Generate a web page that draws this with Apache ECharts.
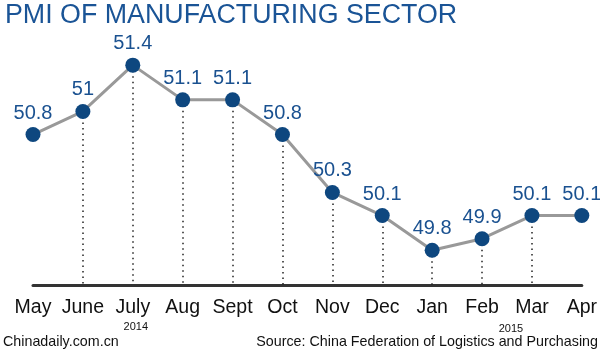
<!DOCTYPE html>
<html>
<head>
<meta charset="utf-8">
<script src="https://cdn.jsdelivr.net/npm/echarts@6/dist/echarts.min.js"></script>
<style>
html,body{margin:0;padding:0;background:#fff;}
#chart{width:600px;height:351px;}
</style>
</head>
<body>
<div id="chart"></div>
<script>
var categories = ['May','June','July','Aug','Sept','Oct','Nov','Dec','Jan','Feb','Mar','Apr'];
var pmiValues = [50.8, 51, 51.4, 51.1, 51.1, 50.8, 50.3, 50.1, 49.8, 49.9, 50.1, 50.1];
var yearLabels = ['2014', '2015'];
var yearIndex = [2, 10];
var axisMin = 49.5, axisMax = 51.6;

var dropLines = [];
for (var i = 1; i < pmiValues.length - 1; i++) {
  dropLines.push([{ coord: [i, pmiValues[i]] }, { coord: [i, axisMin] }]);
}

var chart = echarts.init(document.getElementById('chart'));
var FONT = 'Liberation Sans, Arial, sans-serif';
var yearOffsetX = [3, -21];
var yearY = [327, 329];
chart.setOption({
  animation: false,
  backgroundColor: '#fff',
  grid: { left: 33, right: 18, top: 42, bottom: 66 },
  xAxis: {
    type: 'category',
    data: categories,
    boundaryGap: false,
    axisLine: { show: true, lineStyle: { color: '#333', width: 3 } },
    axisTick: { show: false },
    axisLabel: { color: '#111', fontSize: 19.5, fontFamily: FONT, margin: 13, interval: 0 },
    splitLine: { show: false }
  },
  yAxis: {
    type: 'value', min: axisMin, max: axisMax, show: false,
    splitLine: { show: false }
  },
  series: [{
    type: 'line',
    data: pmiValues,
    symbol: 'circle',
    symbolSize: 15,
    lineStyle: { color: '#999', width: 3 },
    itemStyle: { color: '#0e477f' },
    z: 5,
    label: {
      show: true, position: 'top', distance: 4,
      color: '#1a5190', fontSize: 20, fontFamily: FONT
    },
    markLine: {
      silent: true,
      symbol: ['none', 'none'],
      label: { show: false },
      lineStyle: { color: '#222', width: 1.5, type: [1.5, 4] },
      data: dropLines,
      z: 1
    }
  }]
});

var graphics = [
  { type: 'text', left: 5, top: 2, style: { text: 'PMI OF MANUFACTURING SECTOR', fill: '#1a5496', font: '26.8px ' + FONT } },
  { type: 'text', left: 3, top: 335, style: { text: 'Chinadaily.com.cn', fill: '#111', font: '14.3px ' + FONT } },
  { type: 'text', right: 2, top: 335, style: { text: 'Source: China Federation of Logistics and Purchasing', fill: '#111', font: '14.3px ' + FONT } }
];
yearLabels.forEach(function (t, k) {
  var px = chart.convertToPixel({ xAxisIndex: 0 }, yearIndex[k]);
  graphics.push({
    type: 'text', x: px + yearOffsetX[k], y: yearY[k],
    style: { text: t, fill: '#111', font: '11px ' + FONT, textAlign: 'center', textVerticalAlign: 'middle' }
  });
});
chart.setOption({ graphic: graphics });
</script>
</body>
</html>
